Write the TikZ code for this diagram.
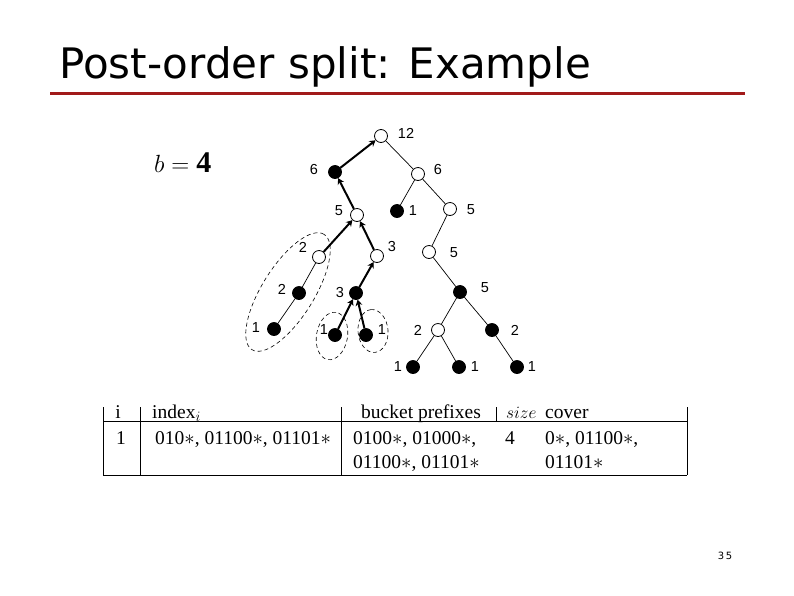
\documentclass[tikz,border=0pt]{standalone}
\usepackage{fontspec}
\usepackage{amsmath}
\setmainfont{Liberation Serif}
\newfontfamily\titlefont{DejaVu Sans}
\newfontfamily\treefont{Liberation Sans}
\usetikzlibrary{arrows.meta, shapes.geometric}
\definecolor{rulered}{HTML}{A11A1A}

\begin{document}
\begin{tikzpicture}[
    x=1pt, y=-1pt,
    open/.style={draw, circle, fill=white, minimum size=13pt, inner sep=0pt, line width=0.8pt},
    full/.style={draw, circle, fill=black, minimum size=13pt, inner sep=0pt, line width=0.8pt},
    lbl/.style={font=\treefont\fontsize{14.5}{14.5}\selectfont, inner sep=0pt},
    tree/.style={line width=0.7pt},
    split/.style={line width=2pt, -{Stealth[length=6pt, width=7pt]}},
    group/.style={draw, ellipse, dash pattern=on 4pt off 3pt, line width=0.6pt, inner sep=0pt},
    cell/.style={font=\fontsize{19.5}{19.5}\selectfont, inner sep=0pt, anchor=base west},
]
    \useasboundingbox (0,0) rectangle (794,595);
    \fill[white] (0,0) rectangle (794,595);

    % Title
    \node[anchor=base west, inner sep=0pt, font=\titlefont\fontsize{42}{48}\selectfont] (title) at (59,78) {Post-order split: Example};
    \draw[rulered, line width=3pt] (50,93) -- (745,93);
    \node[anchor=base west, inner sep=0pt, font=\fontsize{30}{30}\selectfont] (bval) at (154,172) {$b=\mathbf{4}$};

    % Tree nodes
    \node[open] (root) at (381,136) {};
    \node[full] (l6) at (335,172) {};
    \node[open] (r6) at (418,174) {};
    \node[open] (n5) at (357,215) {};
    \node[full] (f1) at (397,211) {};
    \node[open] (r5) at (450,209) {};
    \node[open] (o2) at (319,257) {};
    \node[open] (o3) at (377,256) {};
    \node[open] (s5) at (429,252) {};
    \node[full] (f2) at (299,293) {};
    \node[full] (f3) at (356,293) {};
    \node[full] (f5) at (460,292) {};
    \node[full] (la) at (274,329) {};
    \node[full] (lb) at (335,335) {};
    \node[full] (lc) at (366,335) {};
    \node[open] (o2b) at (438,330) {};
    \node[full] (f2b) at (492,330) {};
    \node[full] (ld) at (413,367) {};
    \node[full] (le) at (459,367) {};
    \node[full] (lf) at (517,367) {};

    % Weights
    \node[lbl] (root-w) at (406,133) {12};
    \node[lbl] (l6-w) at (314,170) {6};
    \node[lbl] (r6-w) at (438,170) {6};
    \node[lbl] (n5-w) at (339,211) {5};
    \node[lbl] (f1-w) at (413,211) {1};
    \node[lbl] (r5-w) at (471,210) {5};
    \node[lbl] (o2-w) at (303,247) {2};
    \node[lbl] (o3-w) at (392,247) {3};
    \node[lbl] (s5-w) at (454,253) {5};
    \node[lbl] (f2-w) at (282,289) {2};
    \node[lbl] (f3-w) at (340,293) {3};
    \node[lbl] (f5-w) at (485,288) {5};
    \node[lbl] (la-w) at (256,328) {1};
    \node[lbl] (lb-w) at (324,330) {1};
    \node[lbl] (lc-w) at (382,330) {1};
    \node[lbl] (o2b-w) at (418,330) {2};
    \node[lbl] (f2b-w) at (515,330) {2};
    \node[lbl] (ld-w) at (398,367) {1};
    \node[lbl] (le-w) at (475,367) {1};
    \node[lbl] (lf-w) at (532,367) {1};

    % Edges
    \draw[tree] (root) -- (r6);
    \draw[tree] (r6) -- (f1);
    \draw[tree] (r6) -- (r5);
    \draw[tree] (r5) -- (s5);
    \draw[tree] (s5) -- (f5);
    \draw[tree] (f5) -- (o2b);
    \draw[tree] (f5) -- (f2b);
    \draw[tree] (o2b) -- (ld);
    \draw[tree] (o2b) -- (le);
    \draw[tree] (f2b) -- (lf);
    \draw[tree] (o2) -- (f2);
    \draw[tree] (f2) -- (la);
    \draw[split] (l6) -- (root);
    \draw[split] (n5) -- (l6);
    \draw[split] (o2) -- (n5);
    \draw[split] (o3) -- (n5);
    \draw[split] (f3) -- (o3);
    \draw[split] (lb) -- (f3);
    \draw[split] (lc) -- (f3);

    % Buckets
    \node[group, minimum width=136pt, minimum height=52pt, rotate=58] (g1) at (288,292) {};
    \node[group, minimum width=48pt, minimum height=31pt, rotate=80] (g2) at (332,336) {};
    \node[group, minimum width=43pt, minimum height=30pt, rotate=95] (g3) at (373,331) {};

    % Table
    \draw[line width=0.8pt] (103,407) -- (103,475);
    \draw[line width=0.8pt] (140,407) -- (140,475);
    \draw[line width=0.8pt] (341,407) -- (341,475);
    \draw[line width=0.8pt] (496,407) -- (496,421);
    \draw[line width=0.8pt] (687,407) -- (687,475);
    \draw[line width=1pt] (103,421.5) -- (687,421.5);
    \draw[line width=1pt] (103,475) -- (687,475);

    \node[cell, anchor=base] (h-i) at (118,418) {i};
    \node[cell] (h-idx) at (152,418) {index$_i$};
    \node[cell] (h-bkt) at (361,418) {bucket prefixes};
    \node[cell, font=\fontsize{16}{16}\selectfont] (h-size) at (506,418) {$size$};
    \node[cell] (h-cov) at (545,418) {cover};

    \node[cell, anchor=base] (r-i) at (121,444) {1};
    \node[cell] (r-idx) at (155,444) {010$*$, 01100$*$, 01101$*$};
    \node[cell] (r-bkt1) at (353,444) {0100$*$, 01000$*$,};
    \node[cell] (r-bkt2) at (353,468) {01100$*$, 01101$*$};
    \node[cell, anchor=base] (r-size) at (510,444) {4};
    \node[cell] (r-cov1) at (545,444) {0$*$, 01100$*$,};
    \node[cell] (r-cov2) at (545,468) {01101$*$};

    % Page number
    \node[anchor=base, inner sep=0pt, font=\titlefont\fontsize{10}{10}\selectfont] (page) at (725,559) {3\,5};
\end{tikzpicture}
\end{document}
